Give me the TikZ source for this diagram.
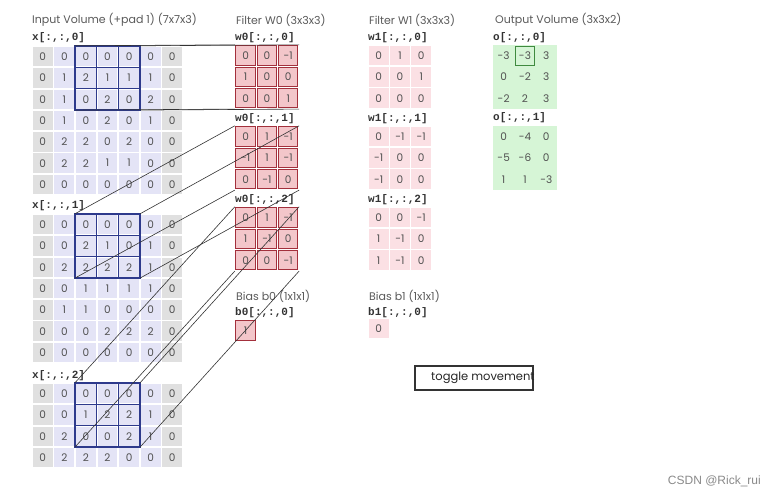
\documentclass[tikz,border=0pt]{standalone}
\usepackage{fontspec}
\setmainfont{Poppins}
\newfontfamily\monofam{Liberation Mono}
\newfontfamily\wmfam{Liberation Sans}
\definecolor{padgray}{HTML}{E0E0E0}
\definecolor{inlav}{HTML}{E4E4F6}
\definecolor{winnavy}{HTML}{2E3A8C}
\definecolor{wpink}{HTML}{F3C6CA}
\definecolor{wred}{HTML}{A3303C}
\definecolor{w1pink}{HTML}{FBE0E4}
\definecolor{ogreen}{HTML}{D6F5D6}
\definecolor{hlgreen}{HTML}{3F8A3F}
\definecolor{txtgray}{HTML}{505050}
\definecolor{ttlgray}{HTML}{5A5A5A}
\definecolor{lblgray}{HTML}{333333}
\definecolor{wmgray}{HTML}{8A8A8A}
\newcommand\ingrid[3]{% name, top, values
 \foreach \v [count=\i from 0] in {#3} {
   \pgfmathtruncatemacro\r{floor(\i/7)}
   \pgfmathtruncatemacro\c{mod(\i,7)}
   \ifnum\c=0 \def\cf{padgray}\else\ifnum\c=6 \def\cf{padgray}\else\def\cf{inlav}\fi\fi
   \node[incell, fill=\cf] (#1-\r-\c) at ({32+21.57*(\c+0.5)},{#2+21.3*(\r+0.5)}) {\v};
 }
 \foreach \r in {0,1,2} \foreach \c in {2,3,4}
   \node[wincell] (#1-w-\r-\c) at ({32+21.57*(\c+0.5)},{#2+21.3*(\r+0.5)}) {};
 \node[winframe] (#1w) at ({32+21.57*3.5},{#2+21.3*1.5}) {};
}
\newcommand\fgrid[5]{% name, left, top, style, values
 \foreach \v [count=\i from 0] in {#5} {
   \pgfmathtruncatemacro\r{floor(\i/3)}
   \pgfmathtruncatemacro\c{mod(\i,3)}
   \node[#4] (#1-\r-\c) at ({#2+21.3*(\c+0.5)},{#3+21.3*(\r+0.5)}) {\v};
 }
 \node[blockframe] (#1) at ({#2+31.95},{#3+31.95}) {};
}
\begin{document}
\begin{tikzpicture}[x=1pt,y=-1pt,
  numfont/.style={font=\fontsize{10.5}{12}\selectfont},
  incell/.style={rectangle, minimum width=19.8pt, minimum height=19.4pt, inner sep=0pt,
    text=txtgray, numfont},
  wincell/.style={rectangle, minimum width=21.57pt, minimum height=21.3pt, inner sep=0pt,
    draw=winnavy, line width=1.3pt},
  winframe/.style={rectangle, minimum width=64.71pt, minimum height=63.9pt, inner sep=0pt},
  blockframe/.style={rectangle, minimum width=63.9pt, minimum height=63.9pt, inner sep=0pt},
  w0cell/.style={rectangle, minimum width=19.4pt, minimum height=19.4pt, inner sep=0pt,
    fill=wpink, draw=wred, line width=1pt, text=txtgray, numfont},
  w1cell/.style={rectangle, minimum width=19.8pt, minimum height=19.6pt, inner sep=0pt,
    fill=w1pink, text=txtgray, numfont},
  ocell/.style={rectangle, minimum width=21.3pt, minimum height=21.3pt, inner sep=0pt,
    fill=ogreen, text=txtgray, numfont},
  hlbox/.style={rectangle, minimum width=19pt, minimum height=19pt, inner sep=0pt,
    draw=hlgreen, line width=1.1pt},
  titletext/.style={anchor=west, inner sep=0pt, text=ttlgray, font=\fontsize{11}{13}\selectfont},
  lbltext/.style={anchor=west, inner sep=0pt, text=lblgray, font=\monofam\bfseries\fontsize{11}{13}\selectfont},
  conn/.style={draw=black!80, line width=0.6pt},
  togglebox/.style={rectangle, minimum width=118pt, minimum height=24pt, inner sep=0pt,
    draw=black!80, line width=1.3pt}
]
\useasboundingbox (0,0) rectangle (775,503);
\fill[white] (0,0) rectangle (775,503);

% titles
\node[titletext] (tin) at (32,20) {Input Volume (+pad 1) (7x7x3)};
\node[titletext] (tw0) at (236,20) {Filter W0 (3x3x3)};
\node[titletext] (tw1) at (369,20) {Filter W1 (3x3x3)};
\node[titletext] (tout) at (495,20) {Output Volume (3x3x2)};
\node[titletext] (tb0) at (236,296) {Bias b0 (1x1x1)};
\node[titletext] (tb1) at (369,296) {Bias b1 (1x1x1)};

% labels
\node[lbltext] (lx0) at (32,38) {x[:,:,0]};
\node[lbltext] (lx1) at (32,206) {x[:,:,1]};
\node[lbltext] (lx2) at (32,376) {x[:,:,2]};
\node[lbltext] (lw00) at (235,38) {w0[:,:,0]};
\node[lbltext] (lw01) at (235,119) {w0[:,:,1]};
\node[lbltext] (lw02) at (235,200) {w0[:,:,2]};
\node[lbltext] (lw10) at (368,38) {w1[:,:,0]};
\node[lbltext] (lw11) at (368,119) {w1[:,:,1]};
\node[lbltext] (lw12) at (368,200) {w1[:,:,2]};
\node[lbltext] (lb0) at (235,313) {b0[:,:,0]};
\node[lbltext] (lb1) at (368,313) {b1[:,:,0]};
\node[lbltext] (lo0) at (493,38) {o[:,:,0]};
\node[lbltext] (lo1) at (493,118) {o[:,:,1]};

% input volume
\ingrid{xa}{46}{0,0,0,0,0,0,0, 0,1,2,1,1,1,0, 0,1,0,2,0,2,0, 0,1,0,2,0,1,0, 0,2,2,0,2,0,0, 0,2,2,1,1,0,0, 0,0,0,0,0,0,0}
\ingrid{xb}{214}{0,0,0,0,0,0,0, 0,0,2,1,0,1,0, 0,2,2,2,2,1,0, 0,0,1,1,1,1,0, 0,1,1,0,0,0,0, 0,0,0,2,2,2,0, 0,0,0,0,0,0,0}
\ingrid{xc}{383}{0,0,0,0,0,0,0, 0,0,1,2,2,1,0, 0,2,0,0,2,1,0, 0,2,2,2,0,0,0}

% filters W0
\fgrid{w0a}{235}{45}{w0cell}{0,0,-1, 1,0,0, 0,0,1}
\fgrid{w0b}{235}{126}{w0cell}{0,1,-1, -1,1,-1, 0,-1,0}
\fgrid{w0c}{235}{207}{w0cell}{0,1,-1, 1,-1,0, 0,0,-1}
\node[w0cell] (b0) at (245.65,330.65) {1};

% filters W1
\fgrid{w1a}{368}{45}{w1cell}{0,1,0, 0,0,1, 0,0,0}
\fgrid{w1b}{368}{126}{w1cell}{0,-1,-1, -1,0,0, -1,0,0}
\fgrid{w1c}{368}{207}{w1cell}{0,0,-1, 1,-1,0, 1,-1,0}
\node[w1cell] (b1) at (378.65,328.65) {0};

% output
\fgrid{oa}{493}{45}{ocell}{-3,-3,3, 0,-2,3, -2,2,3}
\fgrid{ob}{493}{126}{ocell}{0,-4,0, -5,-6,0, 1,1,-3}
\node[hlbox] (ohl) at (oa-0-1) {};

% connectors
\foreach \s/\t in {xaw/w0a, xbw/w0b, xcw/w0c}{
  \draw[conn] (\s.north west) -- (\t.north west);
  \draw[conn] (\s.north east) -- (\t.north east);
  \draw[conn] (\s.south west) -- (\t.south west);
  \draw[conn] (\s.south east) -- (\t.south east);
}

% toggle
\node[togglebox] (tgl) at (474,378) {};
\node[anchor=west, inner sep=0pt, text=black!85, font=\fontsize{11.5}{13}\selectfont] (tgltxt) at (431,378) {toggle movement};

% watermark
\node[anchor=east, inner sep=0pt, text=wmgray, font=\wmfam\fontsize{12}{14}\selectfont] (wm) at (761,481) {CSDN @Rick\_rui};
\end{tikzpicture}
\end{document}
